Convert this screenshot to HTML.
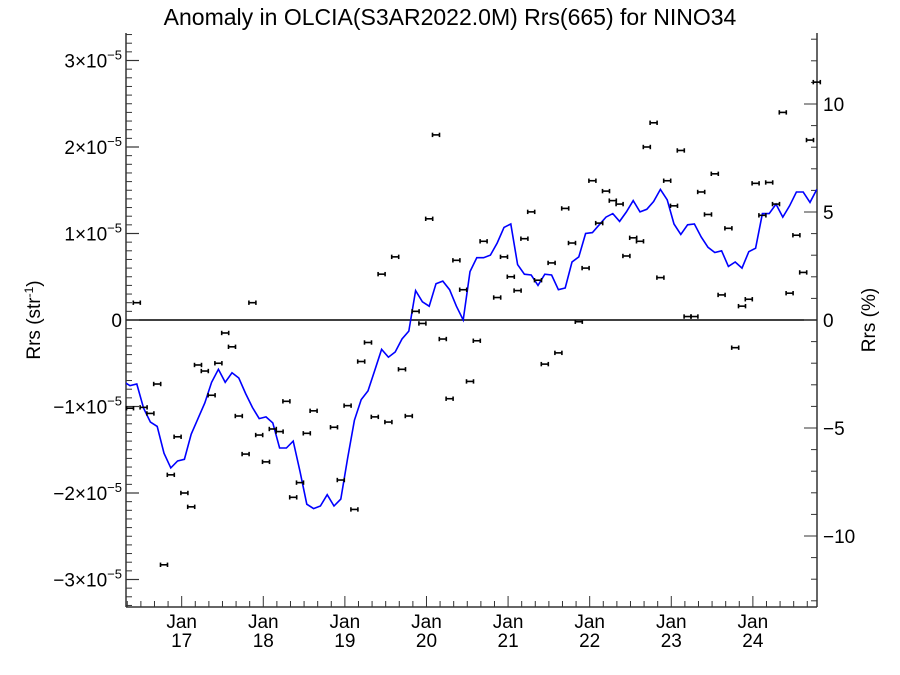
<!DOCTYPE html>
<html><head><meta charset="utf-8"><style>
html,body{margin:0;padding:0;background:#fff;}
svg{display:block;font-family:"Liberation Sans",sans-serif;}
</style></head><body>
<svg id="chart" width="900" height="675" viewBox="0 0 900 675" xmlns="http://www.w3.org/2000/svg">
<text x="450" y="25" font-size="23" text-anchor="middle" fill="#000">Anomaly in OLCIA(S3AR2022.0M) Rrs(665) for NINO34</text>
<text transform="translate(40,320) rotate(-90)" font-size="19" text-anchor="middle">Rrs (str<tspan font-size="12" dy="-7">-1</tspan><tspan dy="7">)</tspan></text>
<text transform="translate(875,320) rotate(-90)" font-size="19" text-anchor="middle">Rrs (%)</text>
<g id="axes"></g>
<g id="marks"></g>
</svg>
<script>
// data: t = months since mid-May 2016; values in units of 1e-5 str^-1
const lineStartMonth = -1;
const lineValues = [-0.71,
-0.76,-0.74,-1.02,-1.18,-1.23,-1.54,-1.71,-1.63,-1.61,-1.32,-1.14,-0.96,-0.72,-0.57,-0.72,-0.61,-0.67,-0.85,-1.01,-1.14,-1.12,-1.19,-1.48,-1.48,-1.40,-1.75,-2.13,-2.18,-2.15,-2.02,-2.15,-2.07,-1.60,-1.16,-0.92,
-0.82,-0.58,-0.34,-0.43,-0.37,-0.22,-0.13,0.34,0.21,0.16,0.42,0.45,0.35,0.16,0.0,0.56,0.72,0.72,0.75,0.89,1.07,1.11,0.64,0.53,0.52,0.40,0.53,0.52,0.35,0.37,0.67,0.73,
1.00,1.01,1.10,1.19,1.23,1.14,1.25,1.38,1.25,1.28,1.37,1.51,1.39,1.11,0.99,1.10,1.11,0.96,0.84,0.78,0.80,0.62,0.67,0.60,0.79,0.83,1.23,1.23,1.34,1.19,1.32,1.48,1.48,1.36,1.51];
const pointValues = [-1.02,0.20,-1.01,-1.08,-0.74,-2.83,-1.79,-1.35,-2.00,-2.16,-0.52,-0.59,-0.87,-0.50,-0.15,-0.31,-1.11,-1.55,0.20,-1.33,-1.64,-1.26,-1.29,-0.94,-2.05,-1.88,-1.31,-1.05,null,null,
-1.24,-1.85,-0.99,-2.19,-0.48,-0.26,-1.12,0.53,-1.18,0.73,-0.57,-1.11,0.10,-0.04,1.17,2.14,-0.22,-0.91,0.69,0.35,-0.71,-0.24,0.91,null,0.26,0.73,0.50,0.34,0.94,1.25,0.46,-0.51,0.66,-0.38,1.29,0.89,-0.02,
0.60,1.61,1.12,1.49,1.38,1.34,0.74,0.95,0.91,2.00,2.28,0.49,1.61,1.32,1.96,0.04,0.04,1.48,1.22,1.69,0.29,1.06,-0.32,0.16,0.24,1.58,1.21,1.59,1.34,2.40,0.31,0.98,0.55,2.08,2.75];
const yearLabels = ["17","18","19","20","21","22","23","24"];
const leftTickValues = [-3,-2,-1,0,1,2,3];
const rightTickValues = [-10,-5,0,5,10];

const L=126,R=817,T=33,B=607;
const x = t => 130 + t*6.8;
const y = v => 320 - v*86.5;
const yPct = p => 320 - p*21.6;
const NS="http://www.w3.org/2000/svg";
const axes=document.getElementById('axes'), marks=document.getElementById('marks');
function mk(tag,attrs,parent){const e=document.createElementNS(NS,tag);for(const k in attrs)e.setAttribute(k,attrs[k]);parent.appendChild(e);return e;}

let e;
e=mk('line',{x1:L,y1:T,x2:L,y2:B,stroke:'#333','stroke-width':1.5},axes);


e=mk('line',{x1:R,y1:T,x2:R,y2:B,stroke:'#333','stroke-width':1.5},axes);


e=mk('line',{x1:L,y1:B,x2:R,y2:B,stroke:'#333','stroke-width':1.5},axes);


e=mk('line',{x1:L,y1:y(0),x2:R,y2:y(0),stroke:'#000','stroke-width':1.5},axes);



for(let v=-3.3;v<=3.31;v+=0.1){const yy=y(v);if(yy<T||yy>B)continue;
 e=mk('line',{x1:L,y1:yy,x2:L+6,y2:yy,stroke:'#333','stroke-width':1},axes);
 
 }
leftTickValues.forEach(v=>{const yy=y(v);
 e=mk('line',{x1:L,y1:yy,x2:L+13,y2:yy,stroke:'#333','stroke-width':1.2},axes);
 
 
 const t=mk('text',{x:L-4,y:yy+7,'font-size':19,'text-anchor':'end'},axes);
 
 
 if(v===0){t.textContent='0';}
 else{t.textContent=(v<0?'\u2212':'')+Math.abs(v)+'\u00d710';const s=document.createElementNS(NS,'tspan');s.setAttribute('font-size','13');s.setAttribute('dy','-8');s.textContent='\u22125';t.appendChild(s);}
});
for(let p=-13;p<=13;p++){const yy=yPct(p);if(yy<T||yy>B)continue;const maj=p%5===0;
 e=mk('line',{x1:R,y1:yy,x2:R-(maj?13:6),y2:yy,stroke:'#333','stroke-width':1},axes);
 
 }
rightTickValues.forEach(p=>{
 const t=mk('text',{x:823,y:yPct(p)+7,'font-size':19},axes);
 
 
 t.textContent=(p<0?'\u2212':'')+Math.abs(p); });
for(let m=-0.5;m<=103;m+=2){const xx=x(m+0.1);if(xx<L||xx>R)continue;
 const maj=((m+0.5)%12)===8;
 e=mk('line',{x1:xx,y1:B,x2:xx,y2:B-(maj?11:6),stroke:'#333','stroke-width':1},axes);
 
 }
yearLabels.forEach((lab,k)=>{const xx=x(7.6+12*k);
 const t1=mk('text',{x:xx,y:628,'font-size':19,'text-anchor':'middle'},axes);
 
 
 t1.textContent='Jan';
 const t2=mk('text',{x:xx,y:647,'font-size':19,'text-anchor':'middle'},axes);
 
 
 t2.textContent=lab;});

const defs=mk('defs',{},marks);const cp=mk('clipPath',{id:'plotclip'},defs);mk('rect',{x:L,y:T,width:R-L,height:B-T},cp);
let d='';lineValues.forEach((v,i)=>{d+=(i?'L':'M')+x(lineStartMonth+i).toFixed(1)+','+y(v).toFixed(1);});
e=mk('path',{d:d,fill:'none',stroke:'#0000ff','stroke-width':1.6,'clip-path':'url(#plotclip)'},marks);


pointValues.forEach((v,i)=>{if(v===null)return;const xx=x(i),yy=y(v);
 const g=mk('g',{stroke:'#000','stroke-width':1.6},marks);
 
 
 mk('line',{x1:xx-3.5,y1:yy,x2:xx+3.5,y2:yy},g);
 mk('line',{x1:xx-3.5,y1:yy-2.2,x2:xx-3.5,y2:yy+2.2},g);
 mk('line',{x1:xx+3.5,y1:yy-2.2,x2:xx+3.5,y2:yy+2.2},g);
});
</script>
</body></html>
